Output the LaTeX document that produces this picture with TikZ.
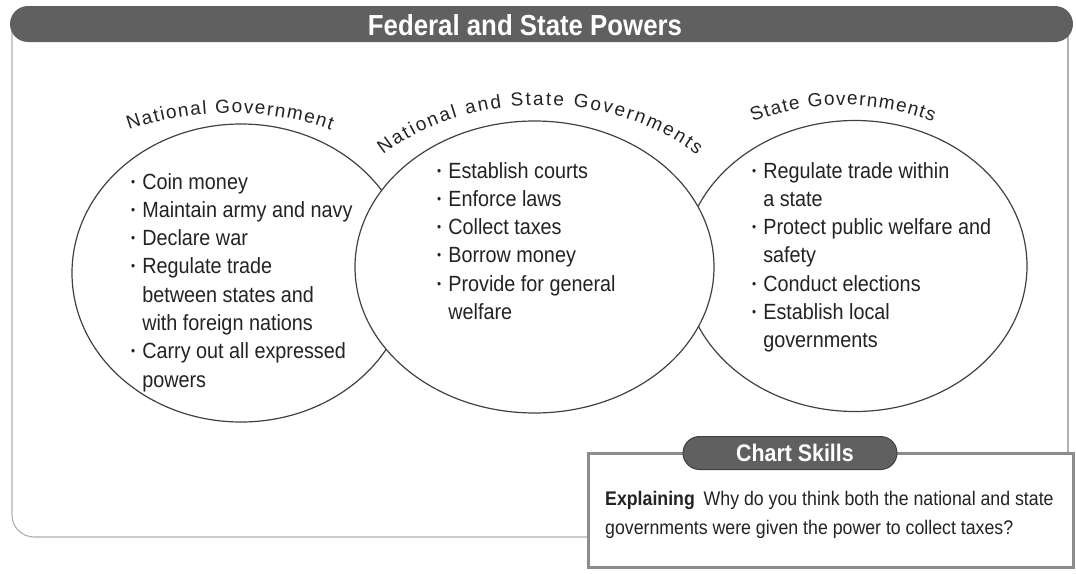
\documentclass[tikz,border=0pt]{standalone}
\usepackage{fontspec}
\setmainfont{Liberation Sans}
\newfontfamily\titlefont[FakeStretch=0.89]{Liberation Sans}
\newfontfamily\bodyfont[FakeStretch=0.9]{Liberation Sans}
\usetikzlibrary{shapes.geometric,shapes.misc,decorations.text}
\definecolor{ink}{RGB}{35,35,35}
\definecolor{ringc}{RGB}{65,65,65}
\definecolor{bannerc}{RGB}{96,96,96}
\definecolor{framec}{RGB}{175,175,175}
\definecolor{boxc}{RGB}{140,140,140}
\newcommand\pbul{{\fontsize{13}{13}\selectfont\raisebox{3pt}{•}}}
\newcommand\hdrfont{\fontsize{19}{19}\selectfont}
\begin{document}
\begin{tikzpicture}[x=1pt,y=-1pt,
  ring/.style={ellipse, draw=ringc, fill=white, line width=1.2pt, inner sep=0pt},
  listtext/.style={anchor=base west, inner sep=0pt, text=ink, font=\bodyfont\fontsize{22}{28.3}\selectfont},
  arclabel/.style={decorate, decoration={text along path, text align=fit to path, text color=ink}},
  pill/.style={rounded rectangle, fill=bannerc, inner sep=0pt},
  pilltext/.style={text=white, inner sep=0pt, font=\titlefont\bfseries\fontsize{#1}{#1}\selectfont},
  frameline/.style={draw=framec, line width=1.1pt, rounded corners=22pt}
]
\useasboundingbox (0,0) rectangle (1076,573);

% outer frame
\coordinate (ftl) at (12,30);
\coordinate (fbl) at (12,537);
\coordinate (fbr) at (590,537);
\coordinate (ftr) at (1068,30);
\coordinate (fmr) at (1068,455);
\draw[frameline] (ftl) -- (fbl) -- (fbr);
\draw[frameline] (ftr) -- (fmr);

% banner
\node[pill, minimum width=1063pt, minimum height=36pt] (banner) at (541.5,24) {};
\node[pilltext=29] (title) at (525,25) {Federal and State Powers};

% ellipses
\node[ring, minimum width=338pt, minimum height=298pt] (L) at (241,273) {};
\node[ring, minimum width=344pt, minimum height=291pt] (R) at (855,266) {};
\node[ring, minimum width=359pt, minimum height=292pt] (M) at (534.5,267) {};

% curved headers
\path[arclabel, decoration={text={|\hdrfont|National Government}}]
  ([shift={(242.4:218 and 150)}]230,263) arc[start angle=242.4, end angle=297.6, x radius=218, y radius=150];
\path[arclabel, decoration={text={|\hdrfont|National and State Governments}}]
  ([shift={(223.4:216 and 160)}]540,265) arc[start angle=223.4, end angle=316.6, x radius=216, y radius=160];
\path[arclabel, decoration={text={|\hdrfont|State Governments}}]
  ([shift={(242.5:195 and 150)}]843,255) arc[start angle=242.5, end angle=297.5, x radius=195, y radius=150];

% lists
\node[listtext] (Llist) at (131,189) {\begin{tabular}[t]{@{}l@{\hspace{7pt}}l@{}}
\pbul & Coin money\\
\pbul & Maintain army and navy\\
\pbul & Declare war\\
\pbul & Regulate trade\\
 & between states and\\
 & with foreign nations\\
\pbul & Carry out all expressed\\
 & powers
\end{tabular}};
\node[listtext] (Mlist) at (437,178) {\begin{tabular}[t]{@{}l@{\hspace{7pt}}l@{}}
\pbul & Establish courts\\
\pbul & Enforce laws\\
\pbul & Collect taxes\\
\pbul & Borrow money\\
\pbul & Provide for general\\
 & welfare
\end{tabular}};
\node[listtext] (Rlist) at (752,178) {\begin{tabular}[t]{@{}l@{\hspace{7pt}}l@{}}
\pbul & Regulate trade within\\
 & a state\\
\pbul & Protect public welfare and\\
 & safety\\
\pbul & Conduct elections\\
\pbul & Establish local\\
 & governments
\end{tabular}};

% chart skills box
\node[draw=boxc, fill=white, line width=3pt, minimum width=485pt, minimum height=114pt, inner sep=0pt] (skillbox) at (830.5,510) {};
\node[pill, draw=ringc, line width=1pt, minimum width=214pt, minimum height=33pt] (skillpill) at (790,453) {};
\node[pilltext=24] (skilltitle) at (795,453) {Chart Skills};
\node[anchor=base west, inner sep=0pt, text=ink, font=\bodyfont\fontsize{19.7}{29}\selectfont] (question) at (605,505) {\begin{tabular}[t]{@{}l@{}}
\textbf{Explaining}\hspace{0.2em} Why do you think both the national and state\\
governments were given the power to collect taxes?
\end{tabular}};
\end{tikzpicture}
\end{document}
